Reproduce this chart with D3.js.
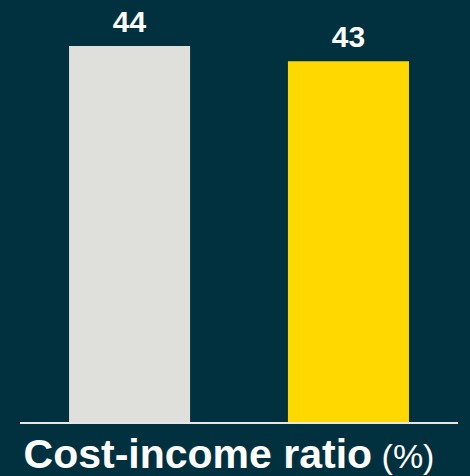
<!DOCTYPE html>
<html>
<head>
<meta charset="utf-8">
<script src="https://cdn.jsdelivr.net/npm/d3@7"></script>
<style>
  html, body { margin: 0; padding: 0; background: #01303f; }
  svg { display: block; }
</style>
</head>
<body>
<script>
// data
var kategorie = ["A", "B"]
var wartosci = [44.4, 42.6]
var kolory = ["#dfdfdb", "#ffd800"]
var tytul = "Cost-income ratio"
var jednostka = "(%)"

var szer = 470, wys = 476
var obrazek = d3.select("body").append("svg")
  .attr("width", szer)
  .attr("height", wys)

obrazek.append("rect").attr("x", 0).attr("y", 0).attr("width", szer).attr("height", wys).style("fill", "#01303f")

var x = d3.scaleBand()
  .domain(kategorie)
  .range([20, 458])
  .paddingInner(0.447)
  .paddingOuter(0.224)

var y = d3.scaleLinear()
  .domain([0, 44.4])
  .range([422, 46])

obrazek.append("g").selectAll("rect")
  .data(wartosci)
  .enter()
  .append("rect")
  .attr("x", function(d, i) { return x(kategorie[i]) })
  .attr("y", function(d) { return y(d) })
  .attr("width", x.bandwidth())
  .attr("height", function(d) { return y(0) - y(d) })
  .style("fill", function(d, i) { return kolory[i] })

obrazek.append("g").selectAll("text")
  .data(wartosci)
  .enter()
  .append("text")
  .attr("x", function(d, i) { return x(kategorie[i]) + x.bandwidth() / 2 })
  .attr("y", function(d) { return y(d) - 14 })
  .attr("text-anchor", "middle")
  .style("font-family", "Liberation Sans, Arial, sans-serif")
  .style("font-weight", "bold")
  .style("font-size", "30px")
  .style("fill", "#ffffff")
  .text(d3.format(".0f"))

// os
obrazek.append("line")
  .attr("x1", x.range()[0]).attr("x2", x.range()[1])
  .attr("y1", y(0) + 1).attr("y2", y(0) + 1)
  .style("stroke", "#e6e6e6")
  .style("stroke-width", 2)

var napis = obrazek.append("text")
  .attr("x", 229)
  .attr("y", 468)
  .attr("text-anchor", "middle")
  .style("font-family", "Liberation Sans, Arial, sans-serif")
  .style("fill", "#ffffff")
napis.append("tspan").style("font-weight", "bold").style("font-size", "41px").text(tytul)
napis.append("tspan").style("font-size", "34px").text(" " + jednostka)
</script>
</body>
</html>
